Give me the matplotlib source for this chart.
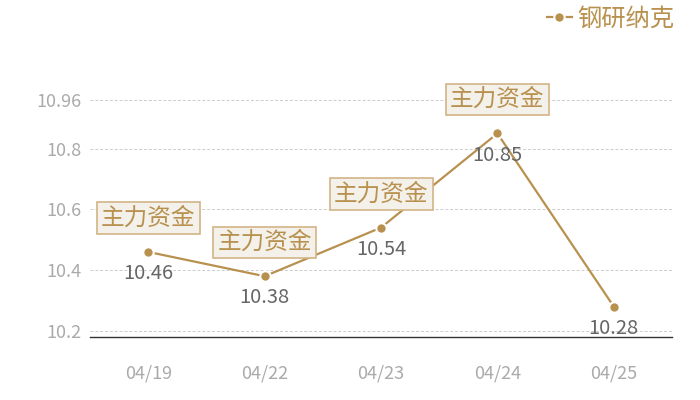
import matplotlib
matplotlib.use("Agg")
import matplotlib.pyplot as plt

plt.rcParams['font.family'] = ['Noto Sans CJK SC', 'DejaVu Sans']

dates = ["04/19", "04/22", "04/23", "04/24", "04/25"]
prices = [10.46, 10.38, 10.54, 10.85, 10.28]
has_tag = [True, True, True, True, False]
tag_text = "主力资金"
series_name = "钢研纳克"
y_ticks = [10.2, 10.4, 10.6, 10.8, 10.96]
y_min, y_max = 10.18, 10.96

gold = "#b8914f"

fig = plt.figure(figsize=(7, 4), dpi=100)
ax = fig.add_axes([0.1286, 0.1575, 0.8314, 0.5925])

x = list(range(len(dates)))
ax.plot(x, prices, color=gold, lw=1.6, marker="o", ms=7.5,
        mfc=gold, mec="white", mew=1.5, label=series_name, zorder=3)

for xi, v, tag in zip(x, prices, has_tag):
    ax.annotate(f"{v:g}", (xi, v), xytext=(0, -8), textcoords="offset points",
                ha="center", va="top", fontsize=14.5, color="#666666", zorder=4)
    if tag:
        ax.annotate(tag_text, (xi, v), xytext=(0, 16), textcoords="offset points",
                    ha="center", va="bottom", fontsize=17, color=gold, zorder=5,
                    bbox=dict(boxstyle="square,pad=0.18", fc="#f4f0ea",
                              ec="#d2b486", lw=1.2))

ax.set_xlim(-0.5, len(dates) - 0.5)
ax.set_ylim(y_min, y_max)
ax.set_xticks(x)
ax.set_xticklabels(dates)
ax.set_yticks(y_ticks)
ax.set_yticklabels([f"{t:g}" for t in y_ticks])
ax.tick_params(axis="both", length=0, labelsize=13, colors="#aaaaaa")
ax.tick_params(axis="x", pad=20)
ax.tick_params(axis="y", pad=6)
ax.grid(axis="y", color="#cccccc", ls=(0, (3, 2)), lw=0.7)
for s in ["top", "right", "left"]:
    ax.spines[s].set_visible(False)
ax.spines["bottom"].set_color("#333333")
ax.spines["bottom"].set_linewidth(1)

leg = fig.legend(loc="upper right", bbox_to_anchor=(0.995, 1.04), frameon=False,
                 fontsize=17.5, handlelength=1.0, handletextpad=0.25)
for t in leg.get_texts():
    t.set_color(gold)

fig.savefig("out.png", dpi=100)
